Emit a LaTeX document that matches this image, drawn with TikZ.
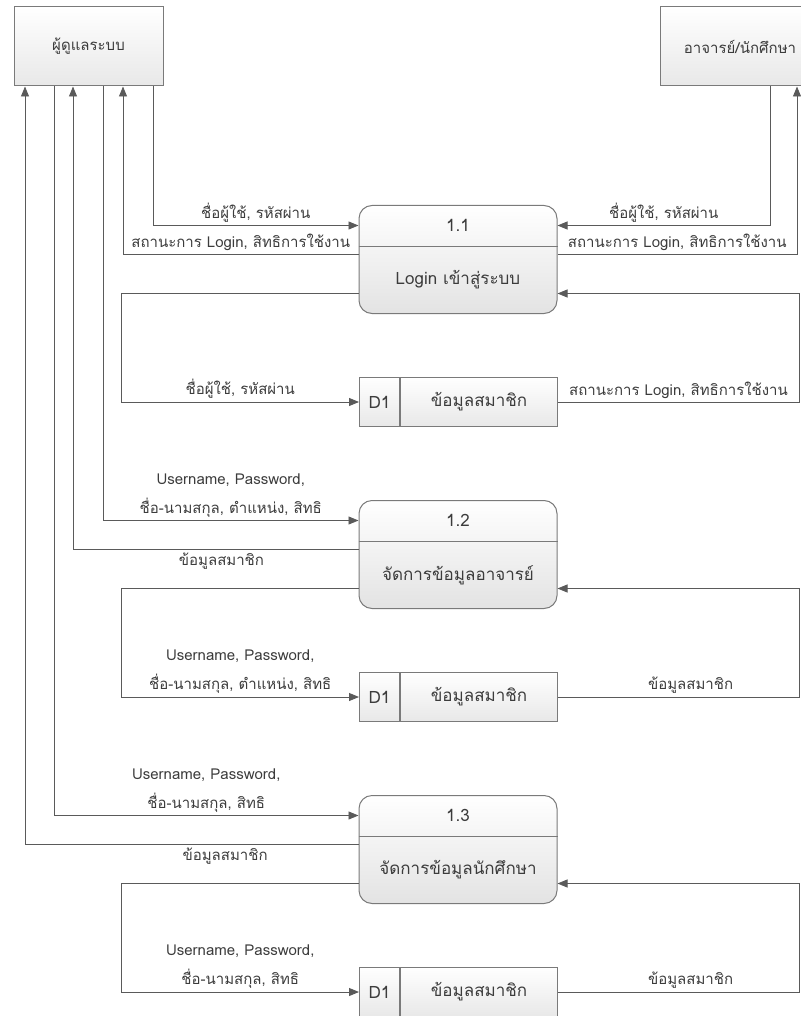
\documentclass[tikz,border=0pt]{standalone}
\usepackage{fontspec}
\setmainfont[Script=Thai]{Loma}
\usetikzlibrary{arrows.meta}
\definecolor{linegray}{HTML}{5A5A5A}
\definecolor{boxgray}{HTML}{7A7A7A}
\definecolor{textgray}{HTML}{3C3C3C}

\begin{document}
\begin{tikzpicture}[x=1pt, y=-1pt,
  every node/.style = {font=\fontsize{15}{29}\selectfont, text=textgray},
  boxtext/.style = {font=\fontsize{17}{20}\selectfont},
  entity/.style = {shape=rectangle, draw=boxgray, line width=1pt,
    top color=white, bottom color=gray!18, minimum height=79pt, inner sep=0pt},
  proc/.style = {shape=rectangle, rounded corners=13pt, draw=boxgray, line width=1pt,
    top color=white, bottom color=gray!22, minimum width=198pt, minimum height=108pt},
  store/.style = {shape=rectangle, draw=boxgray, line width=1pt, boxtext,
    top color=white, bottom color=gray!18, minimum height=49pt, inner sep=0pt},
  flow/.style = {draw=linegray, line width=0.9pt, -{Triangle[length=10pt, width=8pt]}},
  lbl/.style = {align=center, inner sep=3pt}]
  \useasboundingbox (0,0) rectangle (800,1016);

  % external entities
  \node[entity, minimum width=149pt] (admin) at (88.5,46.5) {ผู้ดูแลระบบ};
  \node[entity, minimum width=160pt] (user) at (740,46.5) {อาจารย์/นักศึกษา};

  % processes and data stores
  \foreach \i/\t/\name in {1/205/Login เข้าสู่ระบบ, 2/500/จัดการข้อมูลอาจารย์, 3/795/จัดการข้อมูลนักศึกษา} {
    \node[proc, anchor=north] (p\i) at (458,\t) {};
    \node[boxtext] (p\i id) at ([yshift=-20.5]p\i.north) {1.\i};
    \draw[boxgray, line width=1pt] ([yshift=-41]p\i.north west) -- ([yshift=-41]p\i.north east);
    \node[boxtext] (p\i txt) at ([yshift=-75]p\i.north) {\name};
    \node[store, anchor=north west, minimum width=40pt] (s\i id) at (359,\t+172) {D1};
    \node[store, anchor=west, minimum width=157pt] (s\i) at (s\i id.east) {ข้อมูลสมาชิก};
  }

  % 1.1
  \draw[flow] (admin.south -| 153,0) |- node[lbl, above, pos=0.75] {ชื่อผู้ใช้, รหัสผ่าน} ([yshift=34]p1.west);
  \draw[flow] ([yshift=5]p1.west) -| node[lbl, above, pos=0.25] {สถานะการ Login, สิทธิการใช้งาน} (admin.south -| 123,0);
  \draw[flow] (user.south -| 770,0) |- node[lbl, above, pos=0.75] {ชื่อผู้ใช้, รหัสผ่าน} ([yshift=34]p1.east);
  \draw[flow] ([yshift=5]p1.east) -| node[lbl, above, pos=0.25] {สถานะการ Login, สิทธิการใช้งาน} (user.south -| 797,0);
  \draw[flow] ([yshift=-34]p1.west) -- ++(-237,0) |- node[lbl, above, pos=0.75] {ชื่อผู้ใช้, รหัสผ่าน} (s1id.west);
  \draw[flow] (s1.east) -- node[lbl, above] {สถานะการ Login, สิทธิการใช้งาน} ++(241,0) |- ([yshift=-34]p1.east);

  % 1.2
  \draw[flow] (admin.south -| 103,0) |- node[lbl, above, pos=0.75] {Username, Password,\\ชื่อ-นามสกุล, ตำแหน่ง, สิทธิ} ([yshift=34]p2.west);
  \draw[flow] ([yshift=5]p2.west) -| node[lbl, below, pos=0.24] {ข้อมูลสมาชิก} (admin.south -| 73,0);
  \draw[flow] ([yshift=-34]p2.west) -- ++(-237,0) |- node[lbl, above, pos=0.75] {Username, Password,\\ชื่อ-นามสกุล, ตำแหน่ง, สิทธิ} (s2id.west);
  \draw[flow] (s2.east) -- node[lbl, above, pos=0.55] {ข้อมูลสมาชิก} ++(241,0) |- ([yshift=-34]p2.east);

  % 1.3
  \draw[flow] (admin.south -| 54,0) |- node[lbl, above, pos=0.75] {Username, Password,\\ชื่อ-นามสกุล, สิทธิ} ([yshift=34]p3.west);
  \draw[flow] ([yshift=5]p3.west) -| node[lbl, below, pos=0.2] {ข้อมูลสมาชิก} (admin.south -| 25,0);
  \draw[flow] ([yshift=-34]p3.west) -- ++(-237,0) |- node[lbl, above, pos=0.75] {Username, Password,\\ชื่อ-นามสกุล, สิทธิ} (s3id.west);
  \draw[flow] (s3.east) -- node[lbl, above, pos=0.55] {ข้อมูลสมาชิก} ++(241,0) |- ([yshift=-34]p3.east);
\end{tikzpicture}
\end{document}
